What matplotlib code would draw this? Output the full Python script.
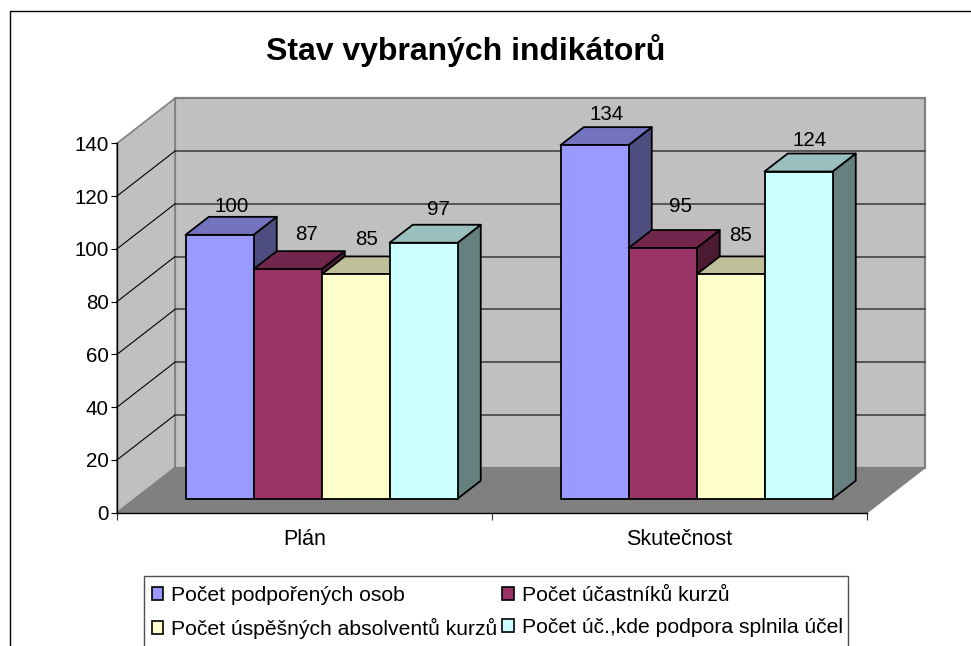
import matplotlib
matplotlib.use("Agg")
import matplotlib.pyplot as plt
from matplotlib.patches import Polygon, Patch, Rectangle
from matplotlib.lines import Line2D
from matplotlib.colors import to_rgb

plt.rcParams['font.family'] = ['Liberation Sans', 'DejaVu Sans']

# ---- data ----
categories = ["Plán", "Skutečnost"]
series_names = ["Počet podpořených osob", "Počet účastníků kurzů",
                "Počet úspěšných absolventů kurzů", "Počet úč.,kde podpora splnila účel"]
osoby = [100, 134]
ucastnici = [87, 95]
absolventi = [85, 85]
ucel = [97, 124]
series_values = [osoby, ucastnici, absolventi, ucel]
y_ticks = [0, 20, 40, 60, 80, 100, 120, 140]
title = "Stav vybraných indikátorů"

# ---- style ----
W, H = 971, 646
colors = ["#9999FF", "#993366", "#FFFFCC", "#CCFFFF"]
label_offsets = [[(12, 28), (12.5, 31)], [(19, 35), (18, 42)],
                 [(11, 35), (10.5, 39)], [(14.5, 33), (11.5, 31.5)]]
FS_TICK, FS_CAT, FS_LEG, FS_TITLE = 14.8, 15.5, 15.2, 23
WALL, FLOOR, EDGE, GRID = "#C0C0C0", "#808080", "#808080", "#555555"

fig = plt.figure(figsize=(W / 100, H / 100), dpi=100, facecolor="white")
def fx(px): return px / W
def fy(py): return 1 - py / H

# axes: x in category units, y in value units, pixel aligned with the front plane
X0, X1, Y0, Y140 = 117, 867, 512.7, 143.3
ax = fig.add_axes([fx(X0), fy(Y0), (X1 - X0) / W, (Y0 - Y140) / H])
ax.set_xlim(0, len(categories))
ax.set_ylim(0, 140)
ax.patch.set_alpha(0)

# oblique projection of the depth axis
px_per_x = (X1 - X0) / len(categories)
px_per_v = (Y0 - Y140) / 140
DX = 58 / px_per_x
DV = 45 / px_per_v
def P(x, v, d):
    return (x + d * DX, v + d * DV)

xmax, vmax = len(categories), y_ticks[-1]
# walls and floor
ax.add_patch(Polygon([P(0, 0, 1), P(xmax, 0, 1), P(xmax, vmax, 1), P(0, vmax, 1)],
                     fc=WALL, ec=EDGE, lw=1.6, clip_on=False, zorder=1))
ax.add_patch(Polygon([P(0, 0, 0), P(0, 0, 1), P(0, vmax, 1), P(0, vmax, 0)],
                     fc=WALL, ec=EDGE, lw=1.2, clip_on=False, zorder=1))
ax.add_patch(Polygon([P(0, 0, 0), P(xmax, 0, 0), P(xmax, 0, 1), P(0, 0, 1)],
                     fc=FLOOR, ec=FLOOR, lw=1, clip_on=False, zorder=1.5))
# gridlines
for v in y_ticks[1:-1]:
    a, b = P(0, v, 1), P(xmax, v, 1)
    ax.plot([a[0], b[0]], [a[1], b[1]], color=GRID, lw=1.4, clip_on=False, zorder=1.2)
    c = P(0, v, 0)
    ax.plot([c[0], a[0]], [c[1], a[1]], color="black", lw=0.8, clip_on=False, zorder=1.2)

# bars
n = len(series_values)
bar_w = 68 / px_per_x
d0, d1 = 14.0 / 45, 14.0 / 45 + 0.4
shift = -1 / px_per_x
z = 3
for c, cat in enumerate(categories):
    center = c + 0.5 + (d0 * DX) + shift
    left = center - n * bar_w / 2
    for s in range(n):
        v = series_values[s][c]
        l, r = left + s * bar_w, left + (s + 1) * bar_w
        base = P(0, 0, d0)[1]
        rgb = to_rgb(colors[s])
        side = tuple(q * 0.5 for q in rgb)
        top = tuple(q * 0.75 for q in rgb)
        def Q(x, val, d):
            return (x + (d - d0) * DX, base + val + (d - d0) * DV)
        ax.add_patch(Polygon([Q(r, 0, d0), Q(r, 0, d1), Q(r, v, d1), Q(r, v, d0)],
                             fc=side, ec="black", lw=1.3, clip_on=False, zorder=z, joinstyle="round"))
        ax.add_patch(Polygon([Q(l, v, d0), Q(r, v, d0), Q(r, v, d1), Q(l, v, d1)],
                             fc=top, ec="black", lw=1.3, clip_on=False, zorder=z + 0.1, joinstyle="round"))
        ax.add_patch(Polygon([Q(l, 0, d0), Q(r, 0, d0), Q(r, v, d0), Q(l, v, d0)],
                             fc=colors[s], ec="black", lw=1.3, clip_on=False, zorder=z + 0.2, joinstyle="round"))
        z += 0.5
        ax.annotate(str(v), xy=((l + r) / 2, base + v), xytext=label_offsets[s][c],
                    textcoords="offset pixels", ha="center", va="center",
                    fontsize=FS_TICK, color="black", zorder=50, annotation_clip=False)

# axes furniture
for sp in ("top", "right"):
    ax.spines[sp].set_visible(False)
for sp in ("left", "bottom"):
    ax.spines[sp].set_linewidth(1.0)
    ax.spines[sp].set_color("black")
    ax.spines[sp].set_zorder(20)
ax.set_yticks(y_ticks)
ax.set_xticks(range(len(categories) + 1))
ax.set_xticklabels([])
ax.set_xticks([i + 0.5 for i in range(len(categories))], minor=True)
ax.set_xticklabels(categories, minor=True, fontsize=FS_CAT)
ax.tick_params(axis="x", which="major", length=5, width=0.8, color="#303030")
ax.tick_params(axis="x", which="minor", length=0, pad=11.5)
ax.tick_params(axis="y", length=4.5, width=0.8, pad=1.5, labelsize=FS_TICK)

# title
fig.text(fx(466), fy(51), title, ha="center", va="center", fontsize=FS_TITLE,
         fontweight="bold", color="black")

# chart frame (cut by the image on the right and the bottom)
fig.add_artist(Line2D([fx(9.5), fx(9.5), fx(W + 5)], [fy(H + 5), fy(10.5), fy(10.5)],
                      color="black", lw=1.0))

# legend (filled column by column, so reorder to read row by row)
fig.add_artist(Rectangle((fx(144), fy(H + 10)), (848 - 144) / W, (H + 10 - 576) / H,
                         fc="white", ec="#505050", lw=1.0, transform=fig.transFigure, zorder=4))
order = [0, 2, 1, 3]
handles = [Patch(fc=colors[i], ec="black", lw=1.2) for i in order]
leg = fig.legend(handles, [series_names[i] for i in order], ncol=2, frameon=False, fontsize=FS_LEG,
                 loc="upper left", bbox_to_anchor=(fx(151.5), fy(586)),
                 borderaxespad=0, borderpad=0, handlelength=0.56, handleheight=0.56,
                 handletextpad=0.37, columnspacing=0.22, labelspacing=0.63)
leg.set_zorder(5)

fig.savefig("out.png", dpi=100, facecolor="white")
